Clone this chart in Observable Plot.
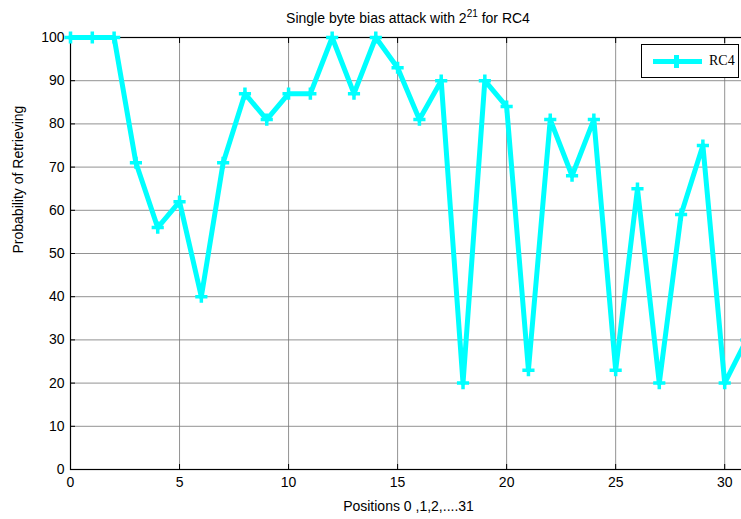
<!DOCTYPE html>
<html>
<head>
<meta charset="utf-8">
<script src="https://cdn.jsdelivr.net/npm/d3@7"></script>
<script src="https://cdn.jsdelivr.net/npm/@observablehq/plot@0.6"></script>
<style>
  body { margin: 0; background: #fff; }
  #wrap { position: relative; width: 741px; height: 519px; overflow: hidden; font-family: "Liberation Sans", Arial, sans-serif; }
  #title { position: absolute; left: 0; width: 816px; top: 8px; text-align: center; font-size: 14px; color: #000; }
  #title sup { font-size: 10px; }
  #legend { position: absolute; left: 641px; top: 44px; width: 98px; height: 34px; border: 1px solid #000; background: #fff; box-sizing: border-box; }
  #legend .ln { position: absolute; left: 11px; top: 14px; width: 49px; height: 5px; background: #00ffff; }
  #legend .mk { position: absolute; left: 32px; top: 10px; width: 5px; height: 13px; background: #00ffff; }
  #legend .tx { position: absolute; left: 67px; top: 8px; font-family: "Liberation Serif", "Times New Roman", serif; font-size: 14px; }
</style>
</head>
<body>
<div id="wrap">
  <div id="chart"></div>
  <div id="title">Single byte bias attack with 2<sup>21</sup> for RC4</div>
  <div id="legend"><div class="ln"></div><div class="mk"></div><div class="tx">RC4</div></div>
</div>
<script>
const positions = [0,1,2,3,4,5,6,7,8,9,10,11,12,13,14,15,16,17,18,19,20,21,22,23,24,25,26,27,28,29,30,31];
const probability = [100,100,100,71,56,62,40,71,87,81,87,87,100,87,100,93,81,90,20,90,84,23,81,68,81,23,65,20,59,75,20,30];
const xTicks = [0,5,10,15,20,25,30];
const yTicks = [0,10,20,30,40,50,60,70,80,90,100];

const data = positions.map((p, i) => ({x: p, y: probability[i]}));

const plot = Plot.plot({
  width: 741,
  height: 519,
  marginLeft: 70,
  marginRight: -5,
  marginTop: 37,
  marginBottom: 50,
  style: {fontFamily: "'Liberation Sans', Arial, sans-serif", fontSize: "13.5px", color: "#000", background: "#fff"},
  x: {domain: [0, 31]},
  y: {domain: [0, 100]},
  marks: [
    Plot.gridX(xTicks, {stroke: "#777", strokeOpacity: 0.8, strokeWidth: 1}),
    Plot.gridY(yTicks, {stroke: "#777", strokeOpacity: 0.8, strokeWidth: 1}),
    Plot.axisX(xTicks, {anchor: "bottom", tickSize: 0, tickPadding: 8, label: null, fontSize: 14}),
    Plot.axisX(xTicks, {anchor: "bottom", tickSize: -5, tickFormat: () => "", label: null}),
    Plot.axisX(xTicks, {anchor: "top", tickSize: -5, tickFormat: () => "", label: null}),
    Plot.axisY(yTicks, {anchor: "left", tickSize: 0, tickPadding: 6, label: null, fontSize: 14}),
    Plot.axisY(yTicks, {anchor: "left", tickSize: -5, tickFormat: () => "", label: null}),
    Plot.text(["Positions 0 ,1,2,....31"], {frameAnchor: "bottom", dy: 41, fontSize: 14, lineAnchor: "bottom", x: () => 15.5}),
    Plot.text(["Probability of Retrieving"], {frameAnchor: "left", dx: -52, rotate: -90, fontSize: 14}),
    Plot.frame({stroke: "#000", strokeWidth: 1.2}),
    Plot.line(data, {x: "x", y: "y", stroke: "#00ffff", strokeWidth: 5, strokeLinejoin: "round"}),
    Plot.dot(data, {x: "x", y: "y", symbol: "plus", stroke: "#00ffff", strokeWidth: 3.5, r: 4})
  ]
});
document.getElementById("chart").appendChild(plot);
</script>
</body>
</html>
